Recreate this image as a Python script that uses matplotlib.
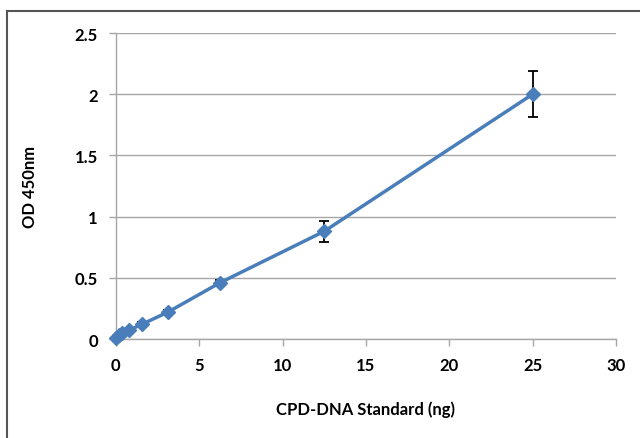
import matplotlib.pyplot as plt
from matplotlib.lines import Line2D

# CPD-DNA standard curve
conc = [0, 0.195, 0.39, 0.78, 1.56, 3.125, 6.25, 12.5, 25]
od = [0.01, 0.03, 0.05, 0.07, 0.12, 0.22, 0.46, 0.88, 2.0]
err = [0.005, 0.005, 0.008, 0.01, 0.015, 0.015, 0.02, 0.085, 0.19]

plt.rcParams['font.family'] = ['Lato', 'DejaVu Sans']

fig = plt.figure(figsize=(6.4, 4.39), dpi=100)
ax = fig.add_axes([0.181, 0.2255, 0.7815, 0.697])

ax.errorbar(conc, od, yerr=err, fmt='none', ecolor='black', elinewidth=1.3,
            capsize=3.5, capthick=1.3, zorder=2)
ax.plot(conc, od, color='#4A7EBB', lw=2.5, marker='D', markersize=7.5,
        zorder=3, clip_on=False)

ax.set_xlim(0, 30)
ax.set_ylim(0, 2.5)
ax.set_xticks([0, 5, 10, 15, 20, 25, 30])
ax.set_yticks([0, 0.5, 1, 1.5, 2, 2.5])
ax.set_yticklabels(['0', '0.5', '1', '1.5', '2', '2.5'])
ax.grid(axis='y', color='#A6A6A6', lw=1)
ax.set_axisbelow(True)

for s in ['top', 'right']:
    ax.spines[s].set_visible(False)
for s in ['left', 'bottom']:
    ax.spines[s].set_color('#A6A6A6')
    ax.spines[s].set_linewidth(1)
ax.tick_params(direction='out', length=5, color='#A6A6A6', width=1,
               labelsize=12, pad=8)
for lab in ax.get_xticklabels() + ax.get_yticklabels():
    lab.set_fontweight('bold')

ax.set_xlabel('CPD-DNA Standard (ng)', fontsize=12, fontweight='bold', labelpad=20)
ax.set_ylabel('OD 450nm', fontsize=12, fontweight='bold', labelpad=26)

# outer chart border (top and left visible)
fig.add_artist(Line2D([7 / 640, 1], [1 - 12 / 439, 1 - 12 / 439],
                      transform=fig.transFigure, color='#555555', lw=1.5))
fig.add_artist(Line2D([7 / 640, 7 / 640], [0, 1 - 12 / 439],
                      transform=fig.transFigure, color='#555555', lw=1.5))

fig.savefig('out.png', dpi=100)
